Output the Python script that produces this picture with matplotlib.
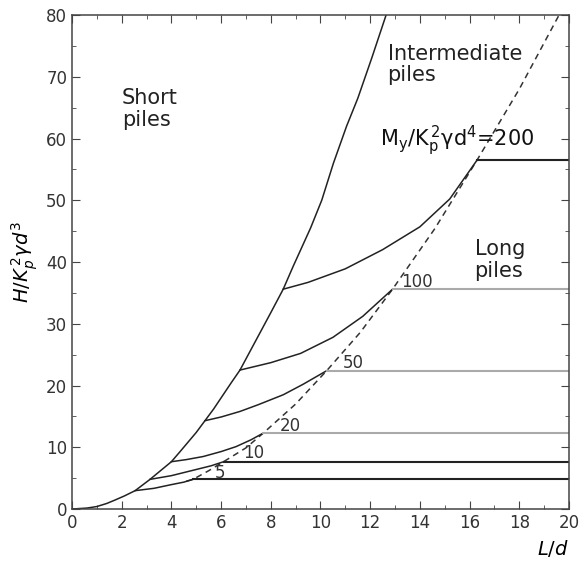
import matplotlib.pyplot as plt
import numpy as np

# short / intermediate pile boundary
short_x = [0, 0.6, 1.0, 1.4, 1.7, 2.1, 2.54, 3.14, 3.5, 4.0, 4.35, 5.0, 5.35, 5.7, 6.4, 6.76, 7.2, 8.0,
           8.5, 8.9, 9.6, 10.05, 10.52, 11.05, 11.5, 12.06, 12.64]
short_y = [0, 0.15, 0.4, 0.9, 1.4, 2.1, 2.97, 4.8, 6.0, 7.66, 9.3, 12.4, 14.3, 16.2, 20.4, 22.5, 25.8, 31.8,
           35.6, 39.3, 45.5, 50.0, 56.0, 62.0, 66.5, 73.0, 80]

# intermediate / long pile boundary (dashed)
long_x = [4.6, 4.87, 5.5, 6.1, 7.0, 7.7, 9.0, 10.25, 11.6, 12.9, 14.6, 16.3, 18.0, 19.6]
long_y = [4.5, 4.8, 6.2, 7.66, 9.9, 12.3, 17.0, 22.4, 28.6, 35.6, 45.4, 56.5, 68.0, 80]

# My/Kp^2 gamma d^4 curves
m_labels = ['5', '10', '20', '50', '100', '200']
m_x = [[2.54, 3.3, 4.0, 4.5, 4.87],
       [3.14, 4.0, 5.0, 5.6, 6.1],
       [4.0, 4.6, 5.28, 6.0, 6.6, 7.2, 7.7],
       [5.35, 6.0, 6.76, 7.5, 8.5, 9.3, 10.25],
       [6.76, 8.0, 9.2, 10.5, 11.7, 12.9],
       [8.5, 9.5, 11.0, 12.5, 14.0, 15.2, 16.3]]
m_y = [[2.97, 3.35, 3.95, 4.35, 4.8],
       [4.8, 5.4, 6.4, 7.0, 7.66],
       [7.66, 8.0, 8.5, 9.3, 10.1, 11.2, 12.3],
       [14.3, 14.9, 15.8, 16.9, 18.5, 20.2, 22.4],
       [22.5, 23.7, 25.2, 27.8, 31.2, 35.6],
       [35.6, 36.7, 38.9, 42.0, 45.7, 50.2, 56.5]]
h_colors = ['#222222', '#222222', '#aaaaaa', '#aaaaaa', '#aaaaaa', '#222222']
lab_pos = [(5.95, 5.9), (7.3, 9.1), (8.8, 13.5), (11.3, 23.6), (13.9, 36.7)]

fig = plt.figure(figsize=(5.84, 5.62), dpi=100)
ax = fig.add_axes([0.1233, 0.0943, 0.851, 0.879])

ax.plot(short_x, short_y, color='#222222', lw=1.1)
ax.plot(long_x, long_y, color='#333333', lw=1.1, ls=(0, (4, 3)))
for i in range(len(m_labels)):
    ax.plot(m_x[i], m_y[i], color='#222222', lw=1.1)
    ax.plot([m_x[i][-1], 20], [m_y[i][-1], m_y[i][-1]], color=h_colors[i], lw=1.5)
for i in range(5):
    ax.text(lab_pos[i][0], lab_pos[i][1], m_labels[i], fontsize=12, color='#333333',
            ha='center', va='center')

ax.text(15.5, 59.6, r'$\mathregular{M_y/K_p^{\,2}\gamma d^4}$=200', fontsize=15,
        ha='center', va='center', color='#111111')
ax.text(2.0, 64.8, 'Short\npiles', fontsize=15, ha='left', va='center',
        linespacing=1.1, color='#222222')
ax.text(12.7, 72.0, 'Intermediate\npiles', fontsize=15, ha='left', va='center',
        linespacing=1.1, color='#222222')
ax.text(16.2, 40.3, 'Long\npiles', fontsize=15, ha='left', va='center',
        linespacing=1.1, color='#222222')

ax.set_xlim(0, 20)
ax.set_ylim(0, 80)
ax.set_xticks(np.arange(0, 21, 2))
ax.set_xticks(np.arange(0, 21, 1), minor=True)
ax.set_yticks(np.arange(0, 81, 10))
ax.set_yticks(np.arange(0, 81, 5), minor=True)
ax.tick_params(which='both', direction='in', top=True, right=True,
               labelsize=12, labelcolor='#333333', color='#444444')
ax.tick_params(which='major', length=6)
ax.tick_params(which='minor', length=3)
for s in ax.spines.values():
    s.set_color('#444444')
    s.set_linewidth(1.1)

ax.set_ylabel(r'$H/K_p^{\,2}\gamma d^3$', fontsize=14, labelpad=4)
ax.text(1.0, -0.058, r'$L/d$', transform=ax.transAxes, fontsize=14,
        ha='right', va='top')

fig.savefig('out.png', dpi=100)
